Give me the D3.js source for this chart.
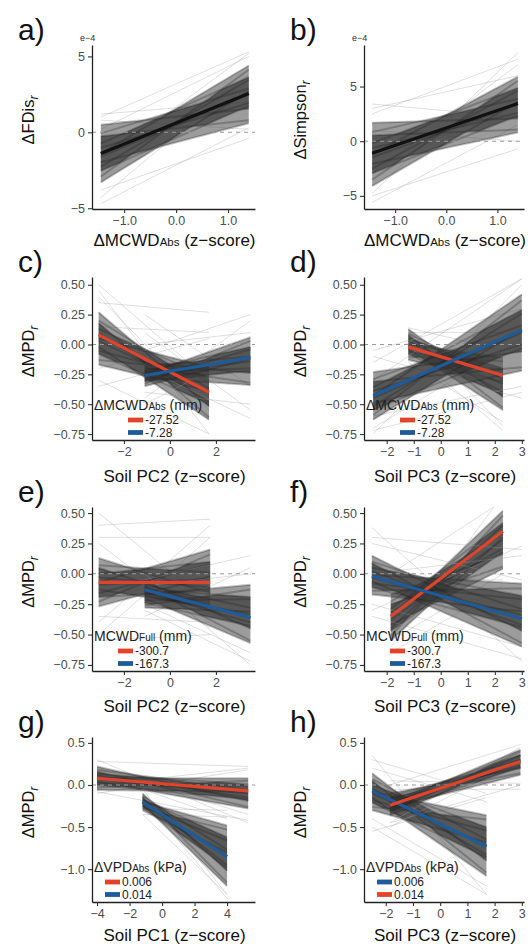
<!DOCTYPE html>
<html>
<head>
<meta charset="utf-8">
<title>Spaghetti panels</title>
<script src="https://d3js.org/d3.v7.min.js"></script>
<style>
  body { margin: 0; background: #fff; }
  text { font-family: "Liberation Sans", Arial, sans-serif; }
  .tick text { fill: #4d4d4d; font-size: 12.5px; }
  .domain { stroke: #222; stroke-width: 1.3px; }
  .tick line { stroke: #333; stroke-width: 1.1px; }
</style>
</head>
<body>
<script>
// ---- data ----
const panelLabels = ["a)", "b)", "c)", "d)", "e)", "f)", "g)", "h)"];

const xDomains = [[-1.62, 1.52], [-1.61, 1.52], [-3.39, 3.70], [-2.84, 3.08],
                  [-3.39, 3.70], [-2.84, 3.08], [-4.31, 5.72], [-2.80, 3.08]];
const yDomains = [[-5.05, 5.75], [-6.2, 8.8], [-0.80, 0.565], [-0.80, 0.565],
                  [-0.80, 0.55], [-0.80, 0.55], [-1.39, 0.57], [-1.39, 0.57]];

const xTicks = [[-1, 0, 1], [-1, 0, 1], [-2, 0, 2], [-2, -1, 0, 1, 2, 3],
                [-2, 0, 2], [-2, -1, 0, 1, 2, 3], [-4, -2, 0, 2, 4], [-2, -1, 0, 1, 2, 3]];
const yTicksAB = [-5, 0, 5];
const yTicksMPD = [-0.75, -0.5, -0.25, 0, 0.25, 0.5];
const yTicksVPD = [-1, -0.5, 0, 0.5];

const yTitles = [["ΔFDis", "r"], ["ΔSimpson", "r"], ["ΔMPD", "r"], ["ΔMPD", "r"],
                 ["ΔMPD", "r"], ["ΔMPD", "r"], ["ΔMPD", "r"], ["ΔMPD", "r"]];
const xTitles = [["ΔMCWD", "Abs", " (z\u2212score)"], ["ΔMCWD", "Abs", " (z\u2212score)"],
                 ["Soil PC2 (z\u2212score)", "", ""], ["Soil PC3 (z\u2212score)", "", ""],
                 ["Soil PC2 (z\u2212score)", "", ""], ["Soil PC3 (z\u2212score)", "", ""],
                 ["Soil PC1 (z\u2212score)", "", ""], ["Soil PC3 (z\u2212score)", "", ""]];

const legendTitles = [null, null,
  ["ΔMCWD", "Abs", " (mm)"], ["ΔMCWD", "Abs", " (mm)"],
  ["MCWD", "Full", " (mm)"], ["MCWD", "Full", " (mm)"],
  ["ΔVPD", "Abs", " (kPa)"], ["ΔVPD", "Abs", " (kPa)"]];
const legendLabels = [null, null, ["-27.52", "-7.28"], ["-27.52", "-7.28"],
  ["-300.7", "-167.3"], ["-300.7", "-167.3"], ["0.006", "0.014"], ["0.006", "0.014"]];

// each group: x extent, mean line ends, dense draws and outlying draws as [yStart, yEnd]
const grpA = { x: [-1.45, 1.4], mean: [-1.4, 2.55],
  core: [[0.5, 1.55], [-0.07, 2.88], [-0.26, 0.79], [-0.74, 3.64], [-1.02, 1.93], [-1.4, 4.4],
         [-1.59, 2.5], [-1.97, 0.6], [-2.26, 3.45], [-2.54, 1.74], [-2.92, 4.12], [-3.3, 2.69]],
  fringe: [[1.2, 2.0], [1.0, 5.3], [-4.7, 0.3], [-4.3, 3.8], [0.2, 5.0], [-3.8, -0.4], [0.8, 0.2], [-2.0, 5.2]] };
const grpB = { x: [-1.45, 1.4], mean: [-1.1, 3.45],
  core: [[1.7, 2.08], [0.83, 3.86], [0.54, 1.06], [-0.19, 4.88], [-0.62, 2.59], [-1.2, 5.9],
         [-1.49, 3.35], [-2.07, 0.8], [-2.51, 4.63], [-2.94, 2.33], [-3.52, 5.52], [-4.1, 3.61]],
  fringe: [[3.4, 2.2], [2.5, 7.5], [-5.6, 1.5], [-4.8, 8.1], [3.0, 6.0], [-5.0, -0.7], [1.0, 0.0], [-3.0, 7.0]] };

const cRed = { x: [-3.1, 1.7], mean: [0.08, -0.40],
  core: [[0.27, -0.52], [0.20, -0.37], [0.18, -0.61], [0.13, -0.28], [0.09, -0.48], [0.05, -0.19],
         [0.03, -0.41], [-0.02, -0.63], [-0.05, -0.30], [-0.08, -0.50], [-0.13, -0.22], [-0.17, -0.39]],
  fringe: [[0.45, -0.75], [0.35, 0.27], [-0.35, -0.10], [0.50, -0.30], [-0.30, -0.75], [0.15, 0.10], [0.40, -0.55], [-0.20, 0.05]] };
const cBlue = { x: [-1.1, 3.5], mean: [-0.26, -0.11],
  core: [[-0.15, -0.24], [-0.18, -0.10], [-0.19, -0.32], [-0.22, -0.02], [-0.23, -0.20], [-0.25, 0.06],
         [-0.26, -0.14], [-0.28, -0.34], [-0.30, -0.04], [-0.31, -0.22], [-0.33, 0.03], [-0.35, -0.12]],
  fringe: [[0.10, -0.55], [-0.05, 0.25], [-0.45, 0.20], [-0.40, -0.50], [0.0, 0.1], [-0.2, -0.62], [0.25, -0.35], [-0.5, -0.05]] };

const dRed = { x: [-1.2, 2.3], mean: [-0.02, -0.26],
  core: [[0.13, -0.44], [0.09, -0.29], [0.08, -0.53], [0.05, -0.20], [0.03, -0.40], [0.00, -0.11],
         [-0.01, -0.33], [-0.04, -0.55], [-0.06, -0.22], [-0.08, -0.42], [-0.10, -0.14], [-0.13, -0.31]],
  fringe: [[0.12, -0.68], [0.10, 0.10], [-0.15, -0.65], [-0.12, 0.05], [0.14, -0.05], [-0.05, -0.72]] };
const dBlue = { x: [-2.5, 3.0], mean: [-0.43, 0.12],
  core: [[-0.23, -0.06], [-0.29, 0.16], [-0.31, -0.19], [-0.36, 0.29], [-0.39, 0.00], [-0.43, 0.42],
         [-0.45, 0.10], [-0.49, -0.22], [-0.52, 0.26], [-0.55, -0.03], [-0.59, 0.37], [-0.63, 0.13]],
  fringe: [[-0.10, -0.45], [-0.15, 0.55], [-0.75, 0.50], [-0.72, -0.40], [-0.30, 0.55], [-0.60, -0.35], [-0.05, 0.30], [-0.70, 0.05]] };

const eRed = { x: [-3.1, 1.75], mean: [-0.07, -0.07],
  core: [[0.13, -0.16], [0.07, 0.01], [0.05, -0.26], [0.00, 0.10], [-0.03, -0.11], [-0.07, 0.20],
         [-0.09, -0.04], [-0.13, -0.28], [-0.16, 0.08], [-0.19, -0.14], [-0.23, 0.16], [-0.27, -0.02]],
  fringe: [[0.50, -0.25], [0.40, 0.45], [-0.50, 0.30], [-0.55, -0.50], [0.30, 0.30], [-0.35, -0.40], [0.25, -0.45], [-0.40, 0.40]] };
const eBlue = { x: [-1.1, 3.5], mean: [-0.13, -0.36],
  core: [[-0.06, -0.45], [-0.09, -0.28], [-0.10, -0.55], [-0.13, -0.19], [-0.15, -0.40], [-0.17, -0.09],
         [-0.18, -0.33], [-0.20, -0.57], [-0.22, -0.21], [-0.24, -0.43], [-0.26, -0.13], [-0.28, -0.31]],
  fringe: [[0.0, -0.75], [-0.05, 0.15], [-0.35, 0.05], [-0.30, -0.72], [-0.10, 0.0], [-0.25, -0.65]] };

const fRed = { x: [-1.85, 2.3], mean: [-0.35, 0.35],
  core: [[-0.17, 0.16], [-0.23, 0.33], [-0.25, 0.06], [-0.29, 0.42], [-0.32, 0.21], [-0.36, 0.52],
         [-0.38, 0.28], [-0.42, 0.04], [-0.45, 0.40], [-0.47, 0.18], [-0.51, 0.48], [-0.55, 0.30]],
  fringe: [[-0.05, -0.05], [0.0, 0.6], [-0.60, 0.65], [-0.65, -0.10], [-0.10, -0.25], [-0.55, 0.0]] };
const fBlue = { x: [-2.55, 3.0], mean: [-0.02, -0.37],
  core: [[0.15, -0.47], [0.10, -0.29], [0.09, -0.57], [0.05, -0.18], [0.02, -0.42], [-0.01, -0.08],
         [-0.03, -0.34], [-0.06, -0.60], [-0.08, -0.21], [-0.11, -0.44], [-0.14, -0.12], [-0.17, -0.31]],
  fringe: [[0.38, -0.72], [0.30, 0.20], [-0.30, 0.23], [-0.35, -0.70], [0.25, -0.05], [-0.25, -0.60], [0.0, 0.15]] };

const gRed = { x: [-4.0, 5.3], mean: [0.08, -0.07],
  core: [[0.22, -0.19], [0.18, -0.06], [0.16, -0.26], [0.13, 0.01], [0.11, -0.15], [0.08, 0.08],
         [0.07, -0.10], [0.04, -0.28], [0.02, -0.01], [0.00, -0.17], [-0.03, 0.05], [-0.06, -0.08]],
  fringe: [[0.30, -0.45], [0.28, 0.22], [-0.10, 0.18], [-0.08, -0.42], [0.2, -0.35], [0.0, 0.2]] };
const gBlue = { x: [-1.2, 4.0], mean: [-0.20, -0.85],
  core: [[-0.10, -1.02], [-0.13, -0.77], [-0.14, -1.16], [-0.17, -0.62], [-0.18, -0.95], [-0.20, -0.48],
         [-0.21, -0.84], [-0.23, -1.20], [-0.25, -0.66], [-0.26, -0.98], [-0.28, -0.53], [-0.30, -0.80]],
  fringe: [[-0.05, -1.30], [-0.05, -0.40], [-0.35, -0.38], [-0.35, -1.30], [-0.15, -1.35], [-0.28, -0.30]] };

const hBlue = { x: [-2.5, 1.7], mean: [-0.07, -0.73],
  core: [[0.14, -0.90], [0.07, -0.65], [0.05, -1.04], [0.00, -0.50], [-0.04, -0.83], [-0.08, -0.36],
         [-0.10, -0.72], [-0.15, -1.08], [-0.18, -0.54], [-0.21, -0.86], [-0.26, -0.41], [-0.30, -0.68]],
  fringe: [[0.35, -1.30], [0.30, -0.10], [-0.55, -0.15], [-0.50, -1.30], [0.20, -0.20], [-0.40, -1.20]] };
const hRed = { x: [-1.85, 2.95], mean: [-0.24, 0.28],
  core: [[-0.10, 0.20], [-0.14, 0.30], [-0.15, 0.14], [-0.18, 0.36], [-0.20, 0.23], [-0.23, 0.42],
         [-0.24, 0.27], [-0.27, 0.12], [-0.29, 0.35], [-0.31, 0.21], [-0.33, 0.40], [-0.36, 0.29]],
  fringe: [[0.05, 0.02], [0.0, 0.48], [-0.45, 0.45], [-0.45, 0.0], [-0.05, -0.05], [-0.5, 0.3]] };

const panelGroups = [[grpA], [grpB], [cRed, cBlue], [dRed, dBlue],
                     [eRed, eBlue], [fRed, fBlue], [gRed, gBlue], [hBlue, hRed]];

// ---- styles / layout ----
const red = "#e2432a", blue = "#1d5b9a", black = "#111";
const groupColours = [[black], [black], [red, blue], [red, blue],
                      [red, blue], [red, blue], [red, blue], [blue, red]];
const yTicksFor = [yTicksAB, yTicksAB, yTicksMPD, yTicksMPD, yTicksMPD, yTicksMPD, yTicksVPD, yTicksVPD];
const xFormat = [".1f", ".1f", "d", "d", "d", "d", "d", "d"];
const yFormat = ["d", "d", ".2f", ".2f", ".2f", ".2f", ".1f", ".1f"];

const colX = [[92, 255], [364, 524]];
const rowY = [[45, 209], [277, 440], [507, 671], [737, 902]];
const xTitleBase = [246, 482, 712, 941];
const legendKeyShift = [36, 26, 13];

const svg = d3.select("body").append("svg")
    .attr("width", 528)
    .attr("height", 944);

// appends tspans: normal text, small same-baseline text, normal text
function richTitle(sel, parts, big, small) {
  sel.append("tspan").attr("font-size", big).text(parts[0]);
  if (parts[1]) sel.append("tspan").attr("font-size", small).text(parts[1]);
  if (parts[2]) sel.append("tspan").attr("font-size", big).text(parts[2]);
}

// outline of a bundle of straight draws; k-th highest / k-th lowest draw
function envelope(grp, x, y, k) {
  const top = [], bot = [];
  for (let s = 0; s <= 40; s++) {
    const t = s / 40;
    const vals = grp.core.map(d => d[0] + (d[1] - d[0]) * t).sort(d3.ascending);
    const xv = grp.x[0] + (grp.x[1] - grp.x[0]) * t;
    top.push([x(xv), y(vals[vals.length - 1 - k])]);
    bot.push([x(xv), y(vals[k])]);
  }
  return top.concat(bot.reverse());
}

panelLabels.forEach((lab, i) => {
  const col = i % 2, row = Math.floor(i / 2);
  const [x0, x1] = colX[col];
  const [y0, y1] = rowY[row];

  const x = d3.scaleLinear().domain(xDomains[i]).range([x0, x1]);
  const y = d3.scaleLinear().domain(yDomains[i]).range([y1, y0]);

  svg.append("clipPath").attr("id", "clip" + i)
    .append("rect")
      .attr("x", x0).attr("y", y0)
      .attr("width", x1 - x0).attr("height", y1 - y0);

  const plot = svg.append("g").attr("clip-path", "url(#clip" + i + ")");

  // posterior draws
  panelGroups[i].forEach(grp => {
    plot.append("g").selectAll("line")
      .data(grp.fringe)
      .join("line")
        .attr("x1", x(grp.x[0])).attr("x2", x(grp.x[1]))
        .attr("y1", d => y(d[0])).attr("y2", d => y(d[1]))
        .attr("stroke", "#999")
        .attr("stroke-opacity", 0.4)
        .attr("stroke-width", 0.8);

    plot.append("path")
      .attr("d", d3.line()(envelope(grp, x, y, 0)) + "Z")
      .attr("fill", "#4a4a4a")
      .attr("fill-opacity", 0.55);

    plot.append("path")
      .attr("d", d3.line()(envelope(grp, x, y, 2)) + "Z")
      .attr("fill", "#333")
      .attr("fill-opacity", 0.65);

    plot.append("g").selectAll("line")
      .data(grp.core)
      .join("line")
        .attr("x1", x(grp.x[0])).attr("x2", x(grp.x[1]))
        .attr("y1", d => y(d[0])).attr("y2", d => y(d[1]))
        .attr("stroke", "#222")
        .attr("stroke-opacity", 0.28)
        .attr("stroke-width", 2);
  });

  // zero reference
  plot.append("line")
    .attr("x1", x0).attr("x2", x1)
    .attr("y1", y(0)).attr("y2", y(0))
    .attr("stroke", "#9a9a9a")
    .attr("stroke-width", 1.1)
    .attr("stroke-dasharray", "4,4");

  // mean lines
  panelGroups[i].forEach((grp, j) => {
    plot.append("line")
      .attr("x1", x(grp.x[0])).attr("x2", x(grp.x[1]))
      .attr("y1", y(grp.mean[0])).attr("y2", y(grp.mean[1]))
      .attr("stroke", groupColours[i][j])
      .attr("stroke-width", 3.2);
  });

  // axes
  svg.append("g")
    .attr("transform", "translate(0," + y1 + ")")
    .call(d3.axisBottom(x).tickValues(xTicks[i]).tickFormat(d3.format(xFormat[i]))
      .tickSize(4).tickSizeOuter(0).tickPadding(3));

  svg.append("g")
    .attr("transform", "translate(" + x0 + ",0)")
    .call(d3.axisLeft(y).tickValues(yTicksFor[i]).tickFormat(d3.format(yFormat[i]))
      .tickSize(4).tickSizeOuter(0).tickPadding(3));

  // panel letter
  svg.append("text")
    .attr("x", x0 - 74)
    .attr("y", y0 - 5)
    .attr("font-size", 30)
    .attr("fill", "#111")
    .text(lab);

  // scale exponent for a) and b)
  if (i < 2) {
    svg.append("text")
      .attr("x", x0 - 12)
      .attr("y", y0 - 4)
      .attr("font-size", 9)
      .attr("fill", "#333")
      .text("e\u22124");
  }

  // y title
  const ty = (y0 + y1) / 2 - 7, tx = x0 - 58;
  const yt = svg.append("text")
    .attr("transform", "translate(" + tx + "," + ty + ") rotate(-90)")
    .attr("text-anchor", "middle")
    .attr("fill", "#111")
    .attr("font-size", 16.5);
  yt.append("tspan").text(yTitles[i][0]);
  yt.append("tspan")
    .attr("font-size", 12)
    .attr("font-style", "italic")
    .attr("dy", 4)
    .text(yTitles[i][1]);

  // x title
  const xt = svg.append("text")
    .attr("x", (x0 + x1) / 2 + 1)
    .attr("y", xTitleBase[row])
    .attr("text-anchor", "middle")
    .attr("fill", "#111");
  richTitle(xt, xTitles[i], 17, 11.5);

  // legend
  if (legendTitles[i]) {
    const lt = svg.append("text")
      .attr("x", x0 + 2)
      .attr("y", y1 - 30)
      .attr("fill", "#222");
    richTitle(lt, legendTitles[i], 14, 10);

    const kx = x0 + legendKeyShift[row - 1];
    const keys = svg.append("g").selectAll("g")
      .data(legendLabels[i])
      .join("g")
        .attr("transform", (d, k) => "translate(" + kx + "," + (y1 - 20 + k * 12.5) + ")");
    keys.append("rect")
      .attr("x", 0).attr("y", -2.4)
      .attr("width", 15).attr("height", 4.8)
      .attr("fill", (d, k) => groupColours[i][k]);
    keys.append("text")
      .attr("x", 17)
      .attr("dy", "0.35em")
      .attr("font-size", 12)
      .attr("fill", "#222")
      .text(d => d);
  }
});
</script>
</body>
</html>
